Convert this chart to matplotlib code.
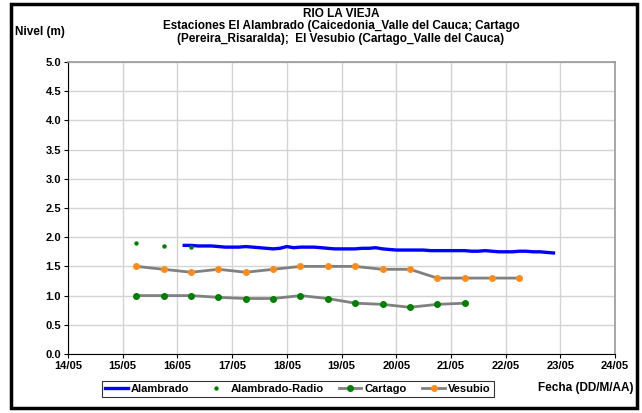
import pandas as pd
import matplotlib.pyplot as plt
import matplotlib.dates as mdates
from matplotlib.patches import Rectangle

plt.rcParams['font.family'] = ['Liberation Sans', 'DejaVu Sans']
plt.rcParams['font.weight'] = 'bold'

# Alambrado (3-hourly readings, 16/05 03:00 -> 22/05 21:00)
alambrado_time = pd.date_range('2010-05-16 03:00', '2010-05-22 21:00', freq='3h')
alambrado_level = [1.86, 1.86, 1.85, 1.85, 1.85, 1.84, 1.83,
                   1.83, 1.83, 1.84, 1.83, 1.82, 1.81, 1.80, 1.81,
                   1.84, 1.82, 1.83, 1.83, 1.83, 1.82, 1.81, 1.80,
                   1.80, 1.80, 1.80, 1.81, 1.81, 1.82, 1.80, 1.79,
                   1.78, 1.78, 1.78, 1.78, 1.78, 1.77, 1.77, 1.77,
                   1.77, 1.77, 1.77, 1.76, 1.76, 1.77, 1.76, 1.75,
                   1.75, 1.75, 1.76, 1.76, 1.75, 1.75, 1.74, 1.73]

# Alambrado-Radio
radio_time = pd.to_datetime(['2010-05-15 06:00', '2010-05-15 18:00', '2010-05-16 06:00'])
radio_level = [1.90, 1.85, 1.83]

# Cartago (6:00 and 18:00 readings)
cartago_time = pd.date_range('2010-05-15 06:00', '2010-05-21 06:00', freq='12h')
cartago_level = [1.00, 1.00, 1.00, 0.97, 0.95, 0.95, 1.00, 0.95, 0.87, 0.85, 0.80, 0.85, 0.87]

# Vesubio
vesubio_time = pd.date_range('2010-05-15 06:00', '2010-05-22 06:00', freq='12h')
vesubio_level = [1.50, 1.45, 1.40, 1.45, 1.40, 1.45, 1.50, 1.50, 1.50, 1.45, 1.45, 1.30, 1.30, 1.30, 1.30]

fig = plt.figure(figsize=(6.42, 4.13), dpi=100)
ax = fig.add_axes([68/642, 1 - 354/413, (615 - 68)/642, (354 - 62)/413])

ax.plot(alambrado_time, alambrado_level, color='#0000ff', lw=2.4, label='Alambrado')
ax.plot(radio_time, radio_level, ls='none', marker='o', ms=2.2, color='#008000', label='Alambrado-Radio')
ax.plot(cartago_time, cartago_level, color='#808080', lw=2, marker='o', ms=4,
        mfc='#008000', mec='#008000', label='Cartago')
ax.plot(vesubio_time, vesubio_level, color='#808080', lw=2, marker='o', ms=4,
        mfc='#ff8c1a', mec='#ff8c1a', label='Vesubio')

ax.set_xlim(pd.Timestamp('2010-05-14'), pd.Timestamp('2010-05-24'))
ax.set_ylim(0, 5)
ax.set_yticks([i * 0.5 for i in range(11)])
ax.yaxis.set_major_formatter(plt.FormatStrFormatter('%.1f'))
ax.xaxis.set_major_locator(mdates.DayLocator())
ax.xaxis.set_major_formatter(mdates.DateFormatter('%d/%m'))
ax.tick_params(labelsize=8, length=3, width=0.8, pad=2)
ax.grid(True, color='#d4d4d4', lw=1)
ax.set_axisbelow(True)
for s in ['top', 'right']:
    ax.spines[s].set_color('#999999')
    ax.spines[s].set_linewidth(1.2)
for s in ['left', 'bottom']:
    ax.spines[s].set_color('black')
    ax.spines[s].set_linewidth(0.8)

fig.text(341/642, 1 - 14/413, 'RIO LA VIEJA', ha='center', va='center', fontsize=8.5)
fig.text(341/642, 1 - 26.5/413, 'Estaciones El Alambrado (Caicedonia_Valle del Cauca; Cartago',
         ha='center', va='center', fontsize=8.5)
fig.text(341/642, 1 - 39/413, '(Pereira_Risaralda);  El Vesubio (Cartago_Valle del Cauca)',
         ha='center', va='center', fontsize=8.5)
fig.text(15/642, 1 - 32/413, 'Nivel (m)', ha='left', va='center', fontsize=8.5)
fig.text(633/642, 1 - 388/413, 'Fecha (DD/M/AA)', ha='right', va='center', fontsize=8.5)

leg = fig.legend(loc='center', bbox_to_anchor=(298/642, 1 - 389/413), ncol=4,
                 fontsize=8, frameon=True, fancybox=False, edgecolor='black',
                 handlelength=2.0, handletextpad=0.3, columnspacing=1.4,
                 borderpad=0.3)
leg.get_frame().set_linewidth(0.8)

fig.patches.append(Rectangle((11/642, 5/413), 626/642, 404/413, transform=fig.transFigure,
                             fill=False, edgecolor='black', lw=2.5))

fig.savefig('out.png', dpi=100)
